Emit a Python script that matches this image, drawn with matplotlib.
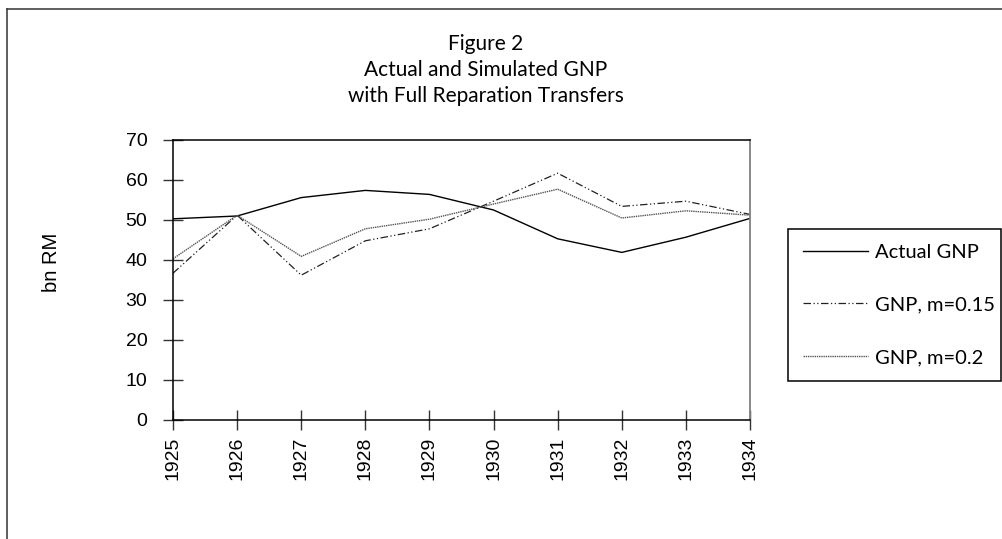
import matplotlib
matplotlib.use("Agg")
import matplotlib.pyplot as plt
from matplotlib.lines import Line2D

years = [1925, 1926, 1927, 1928, 1929, 1930, 1931, 1932, 1933, 1934]
actual_gnp = [50.3, 51.0, 55.6, 57.4, 56.4, 52.5, 45.3, 41.9, 45.7, 50.4]
gnp_m015 = [36.7, 51.2, 36.2, 44.8, 47.8, 54.7, 61.7, 53.4, 54.7, 51.4]
gnp_m02 = [40.3, 51.2, 40.9, 47.8, 50.2, 54.0, 57.7, 50.5, 52.3, 51.2]
series_labels = ["Actual GNP", "GNP, m=0.15", "GNP, m=0.2"]
title_lines = ["Figure 2", "Actual and Simulated GNP", "with Full Reparation Transfers"]
y_ticks = [0, 10, 20, 30, 40, 50, 60, 70]

W, H = 1003, 539
fig = plt.figure(figsize=(W / 100, H / 100), dpi=100)

def fx(px):
    return px / W

def fy(py):
    return 1 - py / H

ax = fig.add_axes([fx(173), fy(420), fx(750) - fx(173), fy(140) - fy(420)])

ax.plot(years, actual_gnp, color="black", lw=1.0, label=series_labels[0])
ax.plot(years, gnp_m015, color="#222222", lw=0.9, linestyle=(0, (6, 2, 1, 2, 1, 2)),
        label=series_labels[1])
ax.plot(years, gnp_m02, color="#555555", lw=1.0, linestyle=(0, (1, 0.6)),
        label=series_labels[2])

ax.set_xlim(years[0], years[-1])
ax.set_ylim(0, 70)
ax.set_yticks(y_ticks)
ax.set_xticks(years)
ax.set_xticklabels([str(y) for y in years], rotation=90, fontfamily="Liberation Sans", fontsize=14)
ax.set_yticklabels([str(v) for v in y_ticks], fontfamily="Liberation Sans", fontsize=14)
ax.tick_params(axis="y", direction="inout", length=15, width=1, pad=11, color="#333333")
ax.tick_params(axis="x", direction="inout", length=14, width=1, pad=5, color="#333333")

for side in ["left", "bottom", "top"]:
    ax.spines[side].set_color("black")
    ax.spines[side].set_linewidth(1.1)
ax.spines["right"].set_color("#808080")
ax.spines["right"].set_linewidth(1.3)

fig.text(fx(52), fy(262), "bn RM", rotation=90, ha="center", va="center",
         fontfamily="Liberation Sans", fontsize=14.5)

title_y = [44, 70, 96]
for t, yy in zip(title_lines, title_y):
    fig.text(fx(486), fy(yy), t, ha="center", va="center", fontfamily="Lato", fontsize=15)

leg_x0, leg_x1, leg_y0, leg_y1 = 788, 1001, 229, 385
leg = fig.legend(loc="upper left",
                 bbox_to_anchor=(fx(leg_x0), fy(leg_y0), fx(leg_x1) - fx(leg_x0), 0),
                 mode="expand", prop={"family": "Lato", "size": 14.5},
                 frameon=True, fancybox=False, edgecolor="black", framealpha=1,
                 handlelength=3.2, handletextpad=0.35, labelspacing=1.75,
                 borderpad=0.75, borderaxespad=0)
leg.get_frame().set_linewidth(1.1)
# tighten the left inset of the legend rows
leg._legend_box.align = "left"

# outer chart border
fig.add_artist(Line2D([fx(7.5), fx(7.5)], [fy(9), fy(560)], color="#333333", lw=1.1))
fig.add_artist(Line2D([fx(7.5), fx(1010)], [fy(9), fy(9)], color="#333333", lw=1.1))

fig.savefig("out.png", dpi=100, facecolor="white")
